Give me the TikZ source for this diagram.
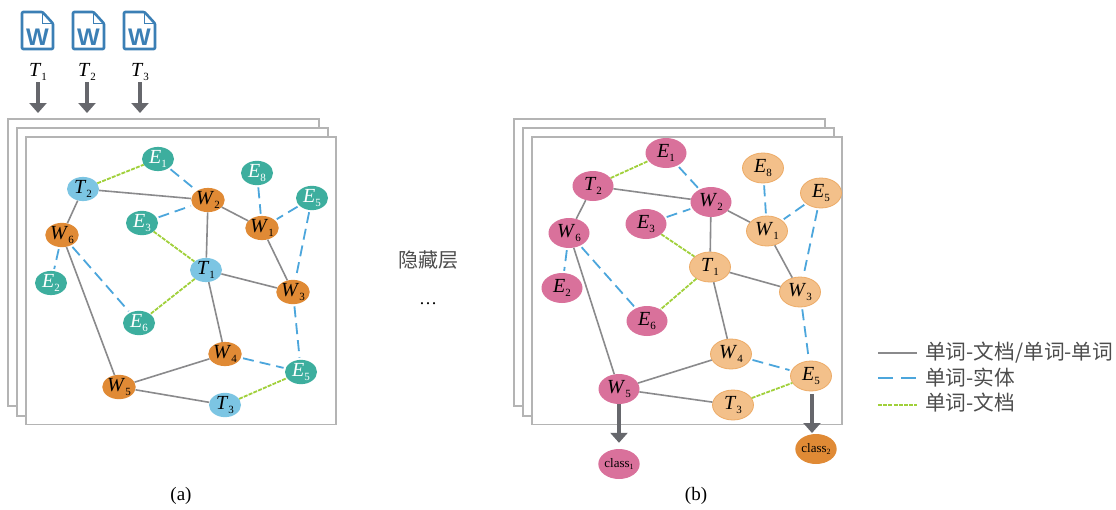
\documentclass[tikz,border=0pt]{standalone}
\usepackage{fontspec}
\setmainfont{Liberation Serif}
\newfontfamily\cjk{Noto Sans CJK SC}
\newfontfamily\iconfont{Liberation Sans}
\usetikzlibrary{shapes.geometric,arrows.meta}
\definecolor{tealc}{HTML}{3DAE9E}
\definecolor{orangec}{HTML}{E08A35}
\definecolor{bluec}{HTML}{7CC5E3}
\definecolor{pinkc}{HTML}{D9719B}
\definecolor{peachc}{HTML}{F3C08A}
\definecolor{peachl}{HTML}{EDAB66}
\definecolor{framec}{HTML}{B4B4B4}
\definecolor{arrowc}{HTML}{66676C}
\definecolor{wordc}{HTML}{3B7FB5}
\definecolor{linec}{HTML}{8A8A8C}
\definecolor{dashc}{HTML}{4CA6DC}
\definecolor{greenc}{HTML}{A0D03A}
\newcommand{\lab}[2]{\fontsize{20}{20}\selectfont\textit{#1}\raisebox{-4pt}{\fontsize{11}{11}\selectfont #2}}
\newcommand{\classlab}[1]{\fontsize{13}{13}\selectfont class\raisebox{-2.5pt}{\fontsize{8}{8}\selectfont #1}}
% the same links in both graphs
\newcommand{\graphedges}[1]{
	\draw[wdoc] (#1T2) -- (#1W2);
	\draw[wdoc] (#1T2) -- (#1W6);
	\draw[wdoc] (#1W2) -- (#1W1);
	\draw[wdoc] (#1W2) -- (#1T1);
	\draw[wdoc] (#1W1) -- (#1W3);
	\draw[wdoc] (#1T1) -- (#1W3);
	\draw[wdoc] (#1T1) -- (#1W4);
	\draw[wdoc] (#1W6) -- (#1W5);
	\draw[wdoc] (#1W5) -- (#1W4);
	\draw[wdoc] (#1W5) -- (#1T3);
	\draw[went] (#1E1) -- (#1W2);
	\draw[went] (#1E3) -- (#1W2);
	\draw[went] (#1E8) -- (#1W1);
	\draw[went] (#1E5) -- (#1W1);
	\draw[went] (#1E5) -- (#1W3);
	\draw[went] (#1W6) -- (#1E2);
	\draw[went] (#1W6) -- (#1E6);
	\draw[went] (#1W3) -- (#1Eb);
	\draw[went] (#1W4) -- (#1Eb);
	\draw[wtxt] (#1T2) -- (#1E1);
	\draw[wtxt] (#1E3) -- (#1T1);
	\draw[wtxt] (#1T1) -- (#1E6);
	\draw[wtxt] (#1T3) -- (#1Eb);
}
\tikzset{
	wdoc/.style={draw=linec,line width=1.6pt},
	went/.style={draw=dashc,line width=1.8pt,dash pattern=on 11pt off 6pt,shorten <=2pt,shorten >=2pt},
	wtxt/.style={draw=greenc,line width=1.8pt,dash pattern=on 4pt off 1.2pt},
	small/.style={ellipse,inner sep=0pt,minimum width=32pt,minimum height=22pt},
	large/.style={ellipse,inner sep=0pt,minimum width=41pt,minimum height=30pt},
	ent/.style={small,fill=tealc,text=white},
	wrd/.style={small,fill=orangec},
	txt/.style={small,fill=bluec},
	hot/.style={large,fill=pinkc},
	cold/.style={large,fill=peachc,draw=peachl,line width=0.8pt},
	sheet/.style={draw=framec,fill=white,line width=1.3pt},
	bigarrow/.style={draw=arrowc,line width=4.5pt,-{Triangle[width=17pt,length=10pt]}},
	zh/.style={font=\cjk\fontsize{20.7}{20.7}\selectfont,text=black!70,anchor=west,inner sep=0pt},
	subcap/.style={font=\fontsize{19}{19}\selectfont,inner sep=0pt},
	wordicon/.pic={
		\draw[wordc,line width=2.6pt,line join=round,rounded corners=1pt,fill=white] (-15.5,-18.5) -- (5,-18.5) -- (15.5,-7) -- (15.5,18.5) -- (-15.5,18.5) -- cycle;
		\draw[wordc,line width=1.6pt] (5,-18.5) -- (5,-7) -- (15.5,-7);
		\node[font=\iconfont\bfseries\fontsize{24}{24}\selectfont,text=wordc,inner sep=0pt] at (0,7) {W};
	}
}
\begin{document}
\begin{tikzpicture}[x=1pt,y=-1pt]
	\useasboundingbox (0,0) rectangle (1116,509);
	% word files and their arrows
	\pic at (37.5,30.5) {wordicon};
	\pic at (88.5,30.5) {wordicon};
	\pic at (139.5,30.5) {wordicon};
	\node (inT1) at (38,72) {\lab{T}{1}};
	\node (inT2) at (87,72) {\lab{T}{2}};
	\node (inT3) at (140,72) {\lab{T}{3}};
	\coordinate (inS1) at (38,82);
	\coordinate (inS2) at (87,82);
	\coordinate (inS3) at (140,82);
	\coordinate (inA1) at (38,113);
	\coordinate (inA2) at (87,113);
	\coordinate (inA3) at (140,113);
	\draw[bigarrow] (inS1) -- (inA1);
	\draw[bigarrow] (inS2) -- (inA2);
	\draw[bigarrow] (inS3) -- (inA3);
	% sheets (a)
	\draw[sheet] (8,119) rectangle (319,406);
	\draw[sheet] (17,128) rectangle (328,416);
	\draw[sheet] (26,137) rectangle (336,424.5);
	% sheets (b)
	\draw[sheet] (514,119) rectangle (825,406);
	\draw[sheet] (523,128) rectangle (834,416);
	\draw[sheet] (532,137) rectangle (842,424.5);
	% graph (a)
	\node[ent] (aE1) at (158,159) {\lab{E}{1}};
	\node[txt] (aT2) at (83,189) {\lab{T}{2}};
	\node[wrd] (aW2) at (208,200) {\lab{W}{2}};
	\node[ent] (aE8) at (257,173) {\lab{E}{8}};
	\node[ent] (aE5) at (312,198) {\lab{E}{5}};
	\node[ent] (aE3) at (142,223) {\lab{E}{3}};
	\node[wrd] (aW1) at (262,228) {\lab{W}{1}};
	\node[wrd] (aW6) at (62,235) {\lab{W}{6}};
	\node[ent] (aE2) at (51,283) {\lab{E}{2}};
	\node[txt] (aT1) at (206,270) {\lab{T}{1}};
	\node[wrd] (aW3) at (293,292) {\lab{W}{3}};
	\node[ent] (aE6) at (139,323) {\lab{E}{6}};
	\node[wrd] (aW4) at (225,354) {\lab{W}{4}};
	\node[ent] (aEb) at (301,372) {\lab{E}{5}};
	\node[wrd] (aW5) at (119,387) {\lab{W}{5}};
	\node[txt] (aT3) at (225,405) {\lab{T}{3}};
	\graphedges{a}
	% graph (b)
	\node[hot] (bE1) at (666,153) {\lab{E}{1}};
	\node[hot] (bT2) at (593,186) {\lab{T}{2}};
	\node[hot] (bW2) at (711,202) {\lab{W}{2}};
	\node[cold] (bE8) at (763,168) {\lab{E}{8}};
	\node[cold] (bE5) at (821,193) {\lab{E}{5}};
	\node[hot] (bE3) at (646,224) {\lab{E}{3}};
	\node[cold] (bW1) at (767,231) {\lab{W}{1}};
	\node[hot] (bW6) at (569,233) {\lab{W}{6}};
	\node[hot] (bE2) at (562,288) {\lab{E}{2}};
	\node[cold] (bT1) at (710,267) {\lab{T}{1}};
	\node[cold] (bW3) at (800,292) {\lab{W}{3}};
	\node[hot] (bE6) at (647,321) {\lab{E}{6}};
	\node[cold] (bW4) at (731,354) {\lab{W}{4}};
	\node[cold] (bEb) at (811,376) {\lab{E}{5}};
	\node[hot] (bW5) at (619,389) {\lab{W}{5}};
	\node[cold] (bT3) at (733,405) {\lab{T}{3}};
	\graphedges{b}
	% classes
	\node[hot] (class1) at (619,464) {\classlab{1}};
	\node[large,fill=orangec] (class2) at (816,449) {\classlab{2}};
	\draw[bigarrow,shorten >=6pt] (bW5) -- (class1);
	\coordinate (arrS) at (812,394);
	\coordinate (arrE) at (812,433);
	\draw[bigarrow] (arrS) -- (arrE);
	% middle text
	\node[font=\cjk\fontsize{20}{20}\selectfont,text=black!70,inner sep=0pt] (hid) at (428,260) {隐藏层};
	\node[font=\fontsize{18}{18}\selectfont,inner sep=0pt] (dots) at (428,304) {…};
	\node[subcap] (capa) at (181,496) {(a)};
	\node[subcap] (capb) at (696,496) {(b)};
	% legend
	\node[zh] (leg1) at (925,353) {单词-文档/单词-单词};
	\node[zh] (leg2) at (925,378) {单词-实体};
	\node[zh] (leg3) at (925,403) {单词-文档};
	\coordinate (from1) at (878,353);
	\coordinate (from2) at (878,378);
	\coordinate (from3) at (878,405);
	\draw[wdoc] (from1) -- (917,353);
	\draw[went,shorten <=0pt,shorten >=0pt,dash pattern=on 15pt off 8pt] (from2) -- (917,378);
	\draw[wtxt] (from3) -- (917,405);
\end{tikzpicture}
\end{document}
